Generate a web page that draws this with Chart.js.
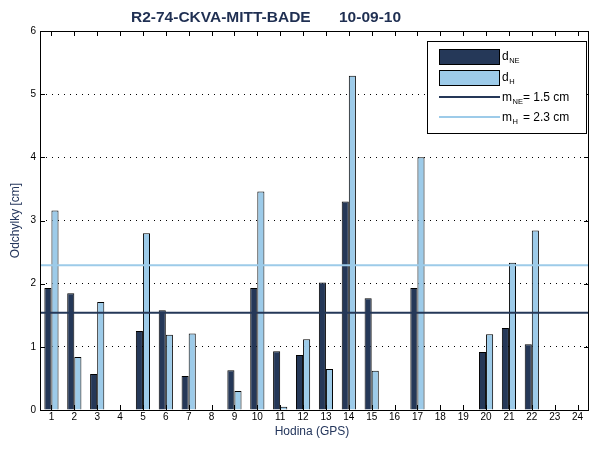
<!DOCTYPE html>
<html lang="en">
<head>
    <meta charset="UTF-8">
    <title>R2-74-CKVA-MITT-BADE 10-09-10</title>
    <style>
        * { margin: 0; padding: 0; box-sizing: border-box; }
        body { background: #ffffff; width: 600px; height: 450px; overflow: hidden; }
        .chart-container { position: relative; width: 600px; height: 450px; }
    </style>
</head>
<body>
    <div class="chart-container">
        <canvas id="devChart" width="600" height="450"></canvas>
    </div>

    <script src="https://cdn.jsdelivr.net/npm/chart.js"></script>
    <script>
        // hours (GPS)
        const hours = ['1','2','3','4','5','6','7','8','9','10','11','12',
                       '13','14','15','16','17','18','19','20','21','22','23','24'];

        // deviations [cm], null = no data for that hour
        const dNE = [1.93, 1.85, 0.57, null, 1.25, 1.58, 0.54, null, 0.63, 1.93, 0.93, 0.87,
                     2.02, 3.30, 1.77, null, 1.93, null, null, 0.92, 1.30, 1.04, null, null];
        const dH  = [3.16, 0.84, 1.71, null, 2.80, 1.19, 1.21, null, 0.30, 3.46, 0.05, 1.12,
                     0.65, 5.29, 0.62, null, 4.00, null, null, 1.20, 2.33, 2.84, null, null];

        // mean values [cm]
        const mNE = 1.54;
        const mH = 2.29;
        const yTicks = [0, 1, 2, 3, 4, 5, 6];

        const navy = '#253858';
        const light = '#9dcbe9';
        const labelColor = '#24365c';
        const font = '"Liberation Sans", Arial, sans-serif';

        // mean lines across the whole plot, placed with the y scale
        const meanLines = {
            id: 'meanLines',
            afterDatasetsDraw(chart) {
                const ctx = chart.ctx;
                const a = chart.chartArea;
                const ys = chart.scales.y;
                ctx.save();
                ctx.lineWidth = 2;
                [[mNE, navy], [mH, light]].forEach(([v, col]) => {
                    const y = ys.getPixelForValue(v);
                    ctx.strokeStyle = col;
                    ctx.beginPath();
                    ctx.moveTo(a.left, y);
                    ctx.lineTo(a.right, y);
                    ctx.stroke();
                });
                ctx.restore();
            }
        };

        // title, inward ticks, box and legend, matlab style
        const matlabDecor = {
            id: 'matlabDecor',
            afterDraw(chart) {
                const ctx = chart.ctx;
                const a = chart.chartArea;
                const xs = chart.scales.x;
                const ys = chart.scales.y;
                ctx.save();

                // title
                ctx.fillStyle = '#1f2f52';
                ctx.font = 'bold 15.5px ' + font;
                ctx.textBaseline = 'middle';
                ctx.textAlign = 'left';
                ctx.fillText('R2-74-CKVA-MITT-BADE', 131, 18);
                ctx.fillText('10-09-10', 339, 18);

                // axis labels
                ctx.fillStyle = labelColor;
                ctx.font = '12px ' + font;
                ctx.textAlign = 'center';
                ctx.fillText('Hodina (GPS)', 312, 432);
                ctx.save();
                ctx.translate(16, (a.top + a.bottom) / 2);
                ctx.rotate(-Math.PI / 2);
                ctx.fillText('Odchylky [cm]', 0, 0);
                ctx.restore();

                // box
                ctx.strokeStyle = '#000';
                ctx.lineWidth = 1;
                ctx.strokeRect(Math.round(a.left) + 0.5, Math.round(a.top) + 0.5,
                               Math.round(a.right - a.left) - 1, Math.round(a.bottom - a.top));

                // inward ticks
                ctx.beginPath();
                hours.forEach((h, i) => {
                    const x = Math.round(xs.getPixelForTick(i)) + 0.5;
                    ctx.moveTo(x, a.bottom); ctx.lineTo(x, a.bottom - 5);
                    ctx.moveTo(x, a.top); ctx.lineTo(x, a.top + 5);
                });
                yTicks.forEach(v => {
                    const y = Math.round(ys.getPixelForValue(v)) + 0.5;
                    ctx.moveTo(a.left, y); ctx.lineTo(a.left + 5, y);
                    ctx.moveTo(a.right, y); ctx.lineTo(a.right - 5, y);
                });
                ctx.stroke();

                // legend
                const lx = 427, ly = 41, lw = 159, lh = 92;
                ctx.fillStyle = '#fff';
                ctx.fillRect(lx, ly, lw, lh);
                ctx.strokeRect(lx + 0.5, ly + 0.5, lw, lh);

                ctx.fillStyle = navy;
                ctx.fillRect(439, 49, 60, 15);
                ctx.strokeRect(439.5, 49.5, 60, 15);
                ctx.fillStyle = light;
                ctx.fillRect(439, 70, 60, 15);
                ctx.strokeRect(439.5, 70.5, 60, 15);

                ctx.lineWidth = 2;
                ctx.strokeStyle = navy;
                ctx.beginPath(); ctx.moveTo(439, 97); ctx.lineTo(500, 97); ctx.stroke();
                ctx.strokeStyle = light;
                ctx.beginPath(); ctx.moveTo(439, 117); ctx.lineTo(500, 117); ctx.stroke();

                const entry = (y, main, sub, rest) => {
                    ctx.fillStyle = '#000';
                    ctx.textAlign = 'left';
                    ctx.textBaseline = 'alphabetic';
                    ctx.font = '12px ' + font;
                    ctx.fillText(main, 502, y);
                    const w = ctx.measureText(main).width;
                    ctx.font = '7.5px ' + font;
                    ctx.fillText(sub, 502 + w + 0.5, y + 3);
                    if (rest) {
                        ctx.font = '12px ' + font;
                        ctx.fillText(rest, 523, y);
                    }
                };
                entry(60, 'd', 'NE');
                entry(81, 'd', 'H');
                entry(101, 'm', 'NE', '= 1.5 cm');
                entry(121, 'm', 'H', '= 2.3 cm');

                ctx.restore();
            }
        };

        const ctx = document.getElementById('devChart').getContext('2d');
        const devChart = new Chart(ctx, {
            type: 'bar',
            data: {
                labels: hours,
                datasets: [
                    {
                        label: 'dNE',
                        data: dNE,
                        backgroundColor: navy,
                        borderColor: '#000',
                        borderWidth: 1,
                        categoryPercentage: 0.62,
                        barPercentage: 1.0
                    },
                    {
                        label: 'dH',
                        data: dH,
                        backgroundColor: light,
                        borderColor: '#000',
                        borderWidth: 1,
                        categoryPercentage: 0.62,
                        barPercentage: 1.0
                    }
                ]
            },
            options: {
                responsive: false,
                animation: false,
                layout: { padding: { top: 31, right: 11, left: 0, bottom: 0 } },
                scales: {
                    x: {
                        offset: true,
                        grid: { display: false, drawTicks: false },
                        border: { display: false },
                        ticks: { color: '#000', font: { family: font, size: 10 }, padding: 1, maxRotation: 0, autoSkip: false },
                        afterFit: s => { s.height = 40; }
                    },
                    y: {
                        min: 0,
                        max: 6,
                        ticks: { stepSize: 1, color: '#000', font: { family: font, size: 10 }, padding: 4 },
                        border: { display: false, dash: [1, 5] },
                        grid: {
                            drawTicks: false,
                            color: c => (c.tick.value === 0 || c.tick.value === 6) ? 'rgba(0,0,0,0)' : '#000',
                            lineWidth: 1
                        },
                        afterFit: s => { s.width = 40; }
                    }
                },
                plugins: {
                    legend: { display: false },
                    title: { display: false },
                    tooltip: { enabled: false }
                }
            },
            plugins: [meanLines, matlabDecor]
        });
    </script>
</body>
</html>
